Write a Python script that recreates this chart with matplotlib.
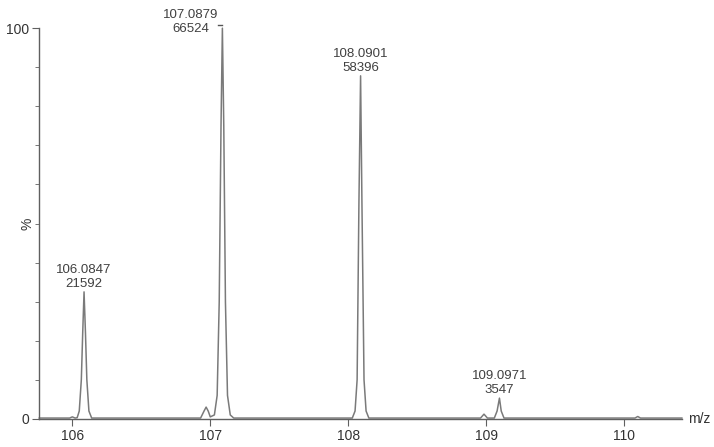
import matplotlib.pyplot as plt
from matplotlib.ticker import MultipleLocator

plt.rcParams['font.family'] = ['Liberation Sans', 'DejaVu Sans']

# Профиль спектра (m/z, % интенсивности)
mz = [105.76, 105.98, 106.0, 106.02, 106.035, 106.05, 106.065, 106.075, 106.0847,
      106.095, 106.105, 106.12, 106.14, 106.35, 106.93, 106.955, 106.97, 106.985,
      107.0, 107.03, 107.05, 107.065, 107.078, 107.0879, 107.098, 107.11, 107.125,
      107.145, 107.17, 108.03, 108.05, 108.065, 108.078, 108.0901, 108.10, 108.115,
      108.13, 108.15, 108.96, 108.985, 109.01, 109.06, 109.08, 109.0971, 109.11,
      109.13, 110.08, 110.1, 110.12, 110.42]
intensity = [0.2, 0.2, 0.5, 0.2, 0.3, 2, 10, 22, 32.5,
             22, 10, 2, 0.2, 0.2, 0.2, 2, 3, 2,
             0.5, 1, 6, 30, 75, 100, 75, 30, 6,
             1, 0.2, 0.2, 2, 10, 55, 87.8, 55, 10,
             2, 0.2, 0.2, 1.2, 0.2, 0.2, 2, 5.3, 2,
             0.2, 0.2, 0.6, 0.2, 0.2]

# Подписи пиков
peak_mz = [106.0847, 107.0879, 108.0901, 109.0971]
peak_counts = [21592, 66524, 58396, 3547]
peak_pct = [32.5, 100, 87.8, 5.3]
label_shift = [0, -0.23, 0, 0]

fig = plt.figure(figsize=(7.14, 4.47), dpi=100)
ax = fig.add_axes([0.055, 0.063, 0.9, 0.874])

ax.plot(mz, intensity, color='#7a7a7a', lw=1.1, clip_on=False)

for x, c, p, s in zip(peak_mz, peak_counts, peak_pct, label_shift):
    top = min(p, 100)
    dy = 0.5 if s == 0 else -1.8
    ax.text(x + s, top + dy, f'{x:.4f}\n{c}', ha='center', va='bottom',
            fontsize=9.5, color='#404040', linespacing=1.25)
    if s != 0:
        # выноска для пика, упёршегося в верх
        ax.plot([x - 0.03, x], [top + 0.8, top + 0.8], color='#555555', lw=1, clip_on=False)

ax.set_xlim(105.76, 110.42)
ax.set_ylim(0, 100)
ax.set_xticks([106, 107, 108, 109, 110])
ax.set_yticks([0, 100])
ax.yaxis.set_minor_locator(MultipleLocator(10))

for side in ['top', 'right']:
    ax.spines[side].set_visible(False)
for side in ['left', 'bottom']:
    ax.spines[side].set_color('#606060')
    ax.spines[side].set_linewidth(1.0)

ax.tick_params(axis='both', which='major', length=5, color='#606060',
               labelsize=10, labelcolor='#333333', direction='out', pad=2)
ax.tick_params(axis='y', which='minor', length=3, color='#606060')
ax.tick_params(axis='x', which='minor', length=0)

ax.set_ylabel('%', fontsize=10, color='#333333')
ax.yaxis.set_label_coords(-0.008, 0.5)
ax.text(1.01, 0, 'm/z', transform=ax.transAxes, ha='left', va='center',
        fontsize=10, color='#333333')

fig.savefig('out.png', dpi=100)
